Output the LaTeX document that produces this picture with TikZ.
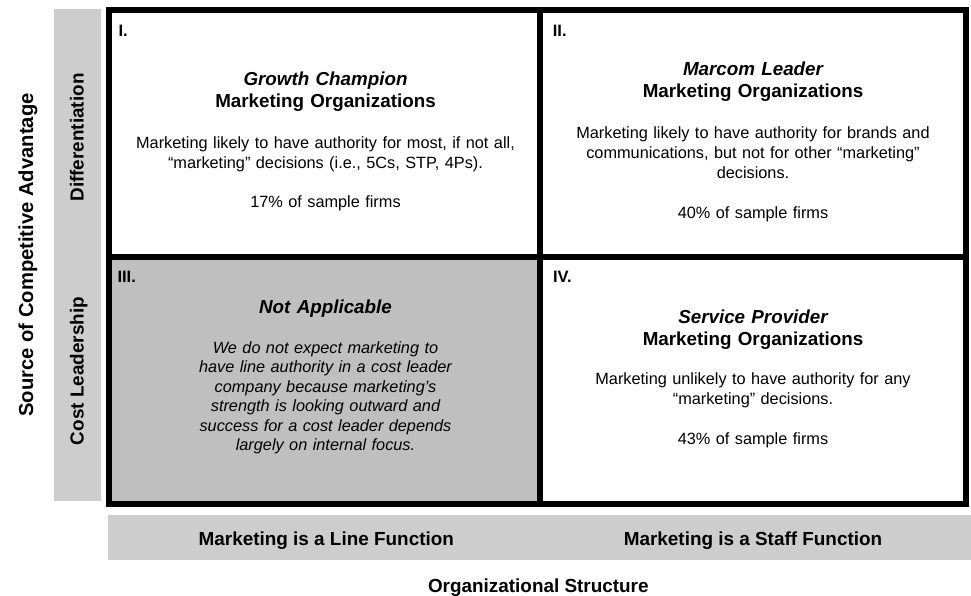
\documentclass[tikz,border=0pt]{standalone}
\usepackage{fontspec}
\setmainfont{Liberation Sans}
\definecolor{barGray}{RGB}{205,205,205}
\definecolor{cellGray}{RGB}{191,191,191}
\begin{document}
\begin{tikzpicture}[x=1pt,y=-1pt,
  bar/.style={draw=none, fill=barGray, inner sep=0pt, outer sep=0pt},
  cell/.style={draw=black, line width=6pt, line join=miter, inner sep=0pt, outer sep=0pt},
  numtxt/.style={anchor=base west, inner sep=0pt, font=\bfseries\fontsize{16.5}{19}\selectfont},
  headtxt/.style={anchor=base, inner sep=0pt, text width=420pt, align=center,
    font=\bfseries\fontsize{18.8}{22.3}\selectfont},
  bodytxt/.style={anchor=base, inner sep=0pt, text width=420pt, align=center,
    font=\fontsize{16.3}{19.7}\selectfont},
  axistxt/.style={anchor=base, inner sep=0pt, font=\bfseries\fontsize{18.9}{22}\selectfont},
]
\useasboundingbox (0,0) rectangle (971,596);

% axis bars
\node[bar, minimum width=47pt, minimum height=492pt] (vbar) at (77.5,255) {};
\node[bar, minimum width=862.4pt, minimum height=45pt] (hbar) at (539.5,537.5) {};

% the four cells of the matrix
\node[cell, fill=cellGray, minimum width=431.6pt, minimum height=247pt] (q3) at (324.5,380.2) {};
\node[cell, minimum width=431.6pt, minimum height=246.4pt] (q1) at (324.5,133.5) {};
\node[cell, minimum width=425.7pt, minimum height=246.4pt] (q2) at (753.15,133.5) {};
\node[cell, minimum width=425.7pt, minimum height=247pt] (q4) at (753.15,380.2) {};

% cell numbers
\node[numtxt] (n1) at (118.3,36.7) {I.};
\node[numtxt] (n2) at (552.7,36.7) {II.};
\node[numtxt] (n3) at (117.3,282) {III.};
\node[numtxt] (n4) at (552.8,282) {IV.};

% cell I
\node[headtxt] (h1) at (325.5,85.2) {{\itshape Growth Champion}\\Marketing Organizations};
\node[bodytxt] (b1) at (325.5,149) {Marketing likely to have authority for most, if not all,\\“marketing” decisions (i.e., 5Cs, STP, 4Ps).};
\node[bodytxt] (p1) at (325.5,207.7) {17\% of sample firms};

% cell II
\node[headtxt] (h2) at (753,75.2) {{\itshape Marcom Leader}\\Marketing Organizations};
\node[bodytxt] (b2) at (753,139) {Marketing likely to have authority for brands and\\communications, but not for other “marketing”\\decisions.};
\node[bodytxt] (p2) at (753,218.4) {40\% of sample firms};

% cell III
\node[headtxt] (h3) at (325.5,313.5) {\itshape Not Applicable};
\node[bodytxt, font=\itshape\fontsize{16.3}{19.4}\selectfont] (b3) at (325.5,353.4)
  {We do not expect marketing to\\have line authority in a cost leader\\company because marketing’s\\strength is looking outward and\\success for a cost leader depends\\largely on internal focus.};

% cell IV
\node[headtxt] (h4) at (753,323.2) {{\itshape Service Provider}\\Marketing Organizations};
\node[bodytxt] (b4) at (753,384.7) {Marketing unlikely to have authority for any\\“marketing” decisions.};
\node[bodytxt] (p4) at (753,444.7) {43\% of sample firms};

% axis labels
\node[axistxt, rotate=90, font=\bfseries\fontsize{20.2}{24}\selectfont] (yaxis) at (33,255) {Source of Competitive Advantage};
\node[axistxt, rotate=90] (diff) at (83.6,137.5) {Differentiation};
\node[axistxt, rotate=90] (cost) at (83.6,371) {Cost Leadership};
\node[axistxt] (line) at (326.3,545.7) {Marketing is a Line Function};
\node[axistxt] (staff) at (753,545.7) {Marketing is a Staff Function};
\node[axistxt] (xaxis) at (538.3,592.3) {Organizational Structure};
\end{tikzpicture}
\end{document}
